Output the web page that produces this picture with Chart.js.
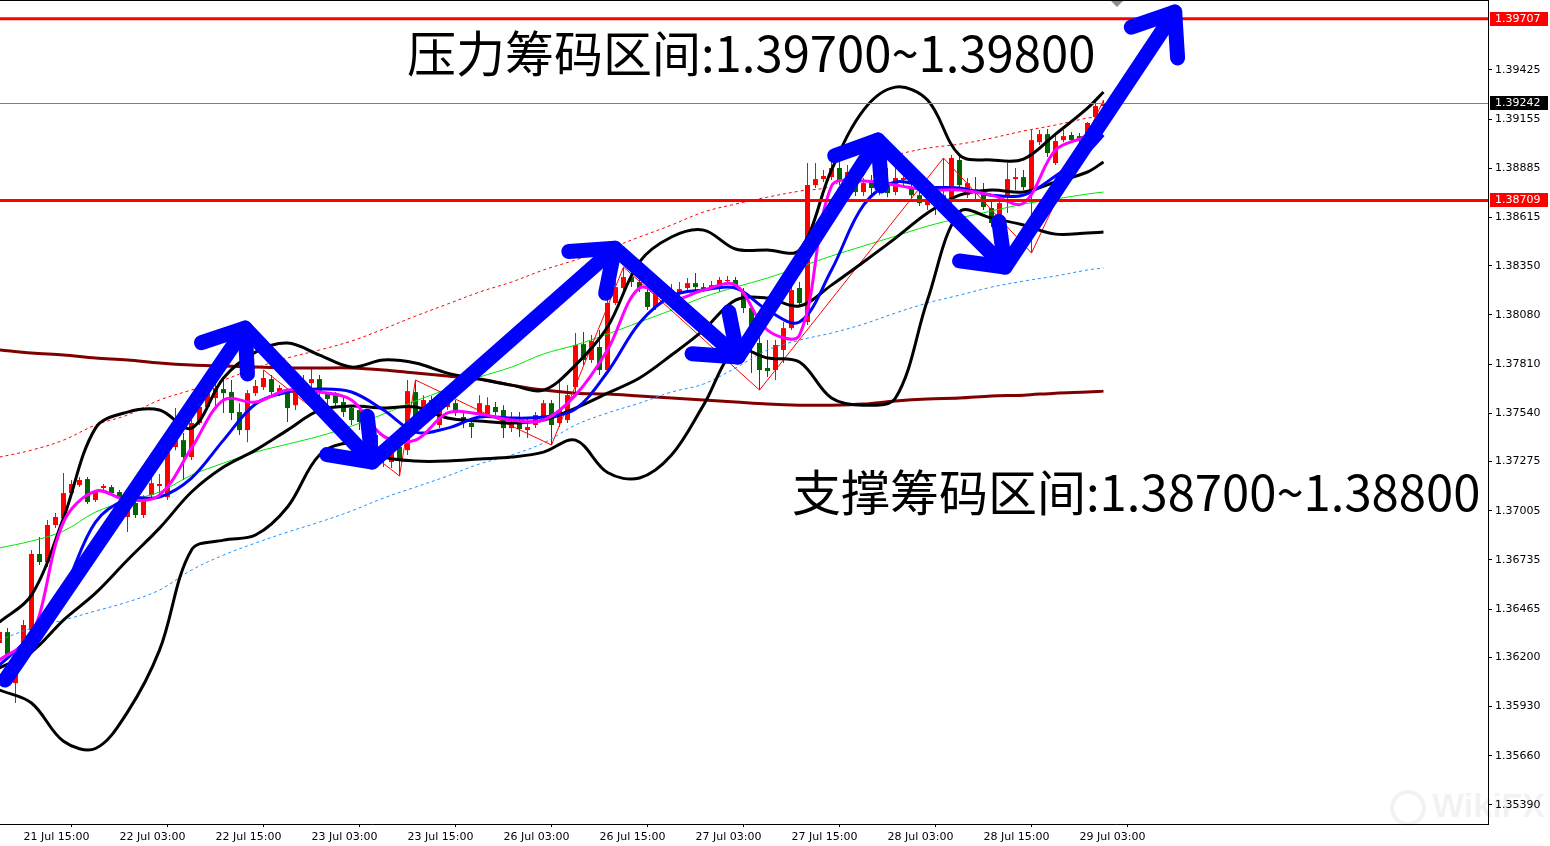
<!DOCTYPE html>
<html>
<head>
<meta charset="utf-8">
<script src="https://cdn.jsdelivr.net/npm/chart.js@4.4.0/dist/chart.umd.min.js"></script>
<style>
  html, body { margin: 0; padding: 0; background: #fff; }
</style>
</head>
<body>
<canvas id="graficoPreco" width="1550" height="846"></canvas>
<script>
// H1 bars, bar 0 = 21 Jul 15:00
const firstBar = -3;
const opens = [
  1.36279, 1.36339, 1.36059, 1.36240, 1.36350, 1.36768, 1.36724, 1.36927, 1.36965, 1.37102,
  1.37146, 1.37179, 1.37064, 1.37130, 1.37135, 1.37108, 1.36971, 1.37048, 1.36982, 1.37091,
  1.37141, 1.37080, 1.37355, 1.37393, 1.37300, 1.37487, 1.37575, 1.37624, 1.37673, 1.37657,
  1.37547, 1.37448, 1.37651, 1.37684, 1.37728, 1.37651, 1.37657, 1.37585, 1.37679, 1.37706,
  1.37728, 1.37651, 1.37640, 1.37602, 1.37569, 1.37558, 1.37476, 1.37421, 1.37295, 1.37273,
  1.37355, 1.37338, 1.37657, 1.37531, 1.37613, 1.37476, 1.37575, 1.37596, 1.37520, 1.37487,
  1.37542, 1.37531, 1.37575, 1.37558, 1.37459, 1.37492, 1.37448, 1.37476, 1.37520, 1.37596,
  1.37487, 1.37503, 1.37684, 1.37920, 1.37833, 1.37904, 1.37778, 1.38146, 1.38228, 1.38288,
  1.38261, 1.38206, 1.38124, 1.38206, 1.38173, 1.38200, 1.38228, 1.38255, 1.38233, 1.38228,
  1.38228, 1.38266, 1.38272, 1.38206, 1.38118, 1.37926, 1.37789, 1.37778, 1.37888, 1.38008,
  1.38228, 1.38041, 1.38793, 1.38826, 1.38837, 1.38887, 1.38810, 1.38832, 1.38755, 1.38810,
  1.38766, 1.38810, 1.38755, 1.38821, 1.38777, 1.38738, 1.38683, 1.38711, 1.38683, 1.38722,
  1.38931, 1.38738, 1.38771, 1.38749, 1.38667, 1.38475, 1.38738, 1.38826, 1.38837, 1.38749,
  1.39029, 1.39073, 1.38914, 1.39040, 1.39068, 1.39062, 1.39068, 1.39167, 1.39227
];
const highs = [
  1.36361, 1.36361, 1.36186, 1.36405, 1.36790, 1.36861, 1.36954, 1.36993, 1.37212, 1.37174,
  1.37190, 1.37190, 1.37119, 1.37152, 1.37146, 1.37119, 1.37064, 1.37064, 1.37091, 1.37190,
  1.37207, 1.37355, 1.37569, 1.37432, 1.37514, 1.37613, 1.37679, 1.37723, 1.37739, 1.37723,
  1.37596, 1.37668, 1.37723, 1.37778, 1.37750, 1.37695, 1.37679, 1.37679, 1.37750, 1.37794,
  1.37750, 1.37657, 1.37657, 1.37629, 1.37585, 1.37585, 1.37520, 1.37448, 1.37366, 1.37349,
  1.37393, 1.37723, 1.37723, 1.37640, 1.37635, 1.37613, 1.37624, 1.37613, 1.37547, 1.37514,
  1.37640, 1.37629, 1.37602, 1.37585, 1.37547, 1.37547, 1.37514, 1.37547, 1.37613, 1.37613,
  1.37723, 1.37695, 1.37981, 1.37986, 1.37970, 1.37997, 1.38233, 1.38310, 1.38343, 1.38310,
  1.38283, 1.38228, 1.38228, 1.38244, 1.38250, 1.38261, 1.38283, 1.38310, 1.38255, 1.38266,
  1.38288, 1.38294, 1.38288, 1.38228, 1.38135, 1.37970, 1.37942, 1.37942, 1.38041, 1.38261,
  1.38261, 1.38914, 1.38914, 1.38876, 1.38931, 1.38931, 1.38903, 1.38876, 1.38832, 1.38848,
  1.38832, 1.38887, 1.38887, 1.38848, 1.38837, 1.38810, 1.38821, 1.38722, 1.38942, 1.38958,
  1.38958, 1.38832, 1.38837, 1.38804, 1.38711, 1.38711, 1.38914, 1.38887, 1.38876, 1.39095,
  1.39095, 1.39101, 1.39068, 1.39095, 1.39084, 1.39079, 1.39139, 1.39249, 1.39260
];
const lows = [
  1.36251, 1.36186, 1.35950, 1.36213, 1.36323, 1.36707, 1.36696, 1.36910, 1.36954, 1.37091,
  1.37135, 1.37042, 1.37053, 1.37119, 1.37086, 1.37064, 1.36888, 1.36965, 1.36965, 1.37080,
  1.37080, 1.37064, 1.37338, 1.37174, 1.37284, 1.37476, 1.37558, 1.37569, 1.37542, 1.37503,
  1.37421, 1.37382, 1.37635, 1.37668, 1.37640, 1.37635, 1.37492, 1.37558, 1.37657, 1.37679,
  1.37613, 1.37585, 1.37575, 1.37520, 1.37476, 1.37448, 1.37366, 1.37240, 1.37245, 1.37240,
  1.37196, 1.37311, 1.37503, 1.37503, 1.37531, 1.37459, 1.37558, 1.37525, 1.37459, 1.37404,
  1.37520, 1.37514, 1.37531, 1.37404, 1.37437, 1.37410, 1.37404, 1.37459, 1.37503, 1.37366,
  1.37465, 1.37487, 1.37657, 1.37805, 1.37816, 1.37750, 1.37767, 1.38135, 1.38217, 1.38233,
  1.38206, 1.38107, 1.38107, 1.38151, 1.38162, 1.38178, 1.38211, 1.38217, 1.38206, 1.38217,
  1.38206, 1.38250, 1.38217, 1.38091, 1.37761, 1.37668, 1.37739, 1.37723, 1.37816, 1.37997,
  1.38129, 1.38025, 1.38777, 1.38810, 1.38821, 1.38793, 1.38777, 1.38733, 1.38733, 1.38738,
  1.38738, 1.38727, 1.38738, 1.38793, 1.38722, 1.38678, 1.38656, 1.38629, 1.38667, 1.38601,
  1.38766, 1.38722, 1.38711, 1.38656, 1.38563, 1.38453, 1.38640, 1.38766, 1.38766, 1.38420,
  1.39013, 1.38947, 1.38903, 1.39029, 1.39024, 1.39024, 1.39051, 1.39150, 1.39216
];
const closes = [
  1.36339, 1.36202, 1.36175, 1.36378, 1.36768, 1.36724, 1.36927, 1.36971, 1.37102, 1.37152,
  1.37174, 1.37053, 1.37108, 1.37141, 1.37102, 1.37080, 1.37048, 1.36982, 1.37080, 1.37157,
  1.37152, 1.37327, 1.37393, 1.37300, 1.37487, 1.37575, 1.37651, 1.37679, 1.37651, 1.37542,
  1.37448, 1.37651, 1.37690, 1.37734, 1.37657, 1.37679, 1.37569, 1.37657, 1.37701, 1.37728,
  1.37651, 1.37619, 1.37596, 1.37547, 1.37503, 1.37492, 1.37410, 1.37338, 1.37349, 1.37327,
  1.37284, 1.37662, 1.37520, 1.37613, 1.37558, 1.37596, 1.37596, 1.37542, 1.37487, 1.37465,
  1.37596, 1.37585, 1.37547, 1.37459, 1.37492, 1.37454, 1.37465, 1.37531, 1.37596, 1.37476,
  1.37558, 1.37640, 1.37915, 1.37833, 1.37937, 1.37778, 1.38146, 1.38233, 1.38288, 1.38261,
  1.38228, 1.38124, 1.38206, 1.38173, 1.38217, 1.38222, 1.38255, 1.38233, 1.38222, 1.38244,
  1.38272, 1.38272, 1.38233, 1.38118, 1.37986, 1.37778, 1.37772, 1.37915, 1.38008, 1.38217,
  1.38146, 1.38793, 1.38826, 1.38843, 1.38887, 1.38821, 1.38865, 1.38755, 1.38804, 1.38777,
  1.38810, 1.38749, 1.38832, 1.38832, 1.38738, 1.38694, 1.38711, 1.38683, 1.38738, 1.38942,
  1.38793, 1.38804, 1.38760, 1.38673, 1.38585, 1.38694, 1.38826, 1.38837, 1.38782, 1.39040,
  1.39073, 1.38969, 1.39035, 1.39062, 1.39040, 1.39040, 1.39134, 1.39227, 1.39242
];

// indicator lines, read every 4 bars
const sampleBars = [-3, 1, 5, 9, 13, 17, 21, 25, 29, 33, 37, 41, 45, 49, 53, 57, 61, 65,
  69, 73, 77, 81, 85, 89, 93, 97, 101, 105, 109, 113, 117, 121, 125, 129, 133, 135];
const bbUpper = [1.36394, 1.36542, 1.36965, 1.37459, 1.37547, 1.37558, 1.37459, 1.37734, 1.37876,
  1.37926, 1.37860, 1.37794, 1.37833, 1.37816, 1.37761, 1.37728, 1.37695, 1.37668, 1.37805,
  1.38014, 1.38371, 1.38508, 1.38546, 1.38442, 1.38437, 1.38437, 1.38876, 1.39205, 1.39331,
  1.39260, 1.38958, 1.38931, 1.38936, 1.39073, 1.39216, 1.39304];
const bbMiddle = [1.36142, 1.36230, 1.36405, 1.36553, 1.36735, 1.36910, 1.37108, 1.37245, 1.37338,
  1.37448, 1.37558, 1.37580, 1.37569, 1.37575, 1.37514, 1.37498, 1.37487, 1.37503, 1.37569,
  1.37651, 1.37734, 1.37860, 1.37997, 1.38162, 1.38173, 1.38129, 1.38244, 1.38371, 1.38502,
  1.38640, 1.38738, 1.38766, 1.38755, 1.38810, 1.38865, 1.38920];
const bbLower = [1.36021, 1.35950, 1.35740, 1.35700, 1.35900, 1.36240, 1.36790, 1.36844, 1.36872,
  1.37026, 1.37311, 1.37377, 1.37300, 1.37278, 1.37278, 1.37289, 1.37300, 1.37327, 1.37393,
  1.37215, 1.37185, 1.37311, 1.37585, 1.37888, 1.37844, 1.37822, 1.37624, 1.37585, 1.37624,
  1.38162, 1.38645, 1.38612, 1.38574, 1.38524, 1.38530, 1.38535];
const maFast = [1.36186, 1.36317, 1.36943, 1.37113, 1.37064, 1.37091, 1.37349, 1.37613, 1.37602,
  1.37668, 1.37657, 1.37613, 1.37415, 1.37393, 1.37542, 1.37536, 1.37503, 1.37503, 1.37640,
  1.37888, 1.38228, 1.38162, 1.38217, 1.38244, 1.37997, 1.37970, 1.38788, 1.38815, 1.38793,
  1.38766, 1.38766, 1.38738, 1.38694, 1.38986, 1.39068, 1.39178];
const maSlow = [1.36158, 1.36323, 1.36570, 1.36943, 1.37070, 1.37080, 1.37185, 1.37393, 1.37591,
  1.37657, 1.37673, 1.37657, 1.37558, 1.37437, 1.37459, 1.37520, 1.37514, 1.37520, 1.37564,
  1.37767, 1.38036, 1.38184, 1.38217, 1.38228, 1.38107, 1.38041, 1.38327, 1.38683, 1.38810,
  1.38782, 1.38777, 1.38738, 1.38738, 1.38843, 1.38975, 1.39068];
const maLong = [1.36801, 1.36839, 1.36894, 1.36998, 1.37059, 1.37108, 1.37201, 1.37267, 1.37327,
  1.37371, 1.37415, 1.37470, 1.37536, 1.37608, 1.37673, 1.37739, 1.37794, 1.37866, 1.37915,
  1.37975, 1.38041, 1.38107, 1.38178, 1.38233, 1.38283, 1.38343, 1.38404, 1.38459, 1.38513,
  1.38568, 1.38612, 1.38651, 1.38689, 1.38717, 1.38744, 1.38755];
const maTrend = [1.37888, 1.37871, 1.37860, 1.37844, 1.37833, 1.37816, 1.37805, 1.37800, 1.37794,
  1.37789, 1.37789, 1.37789, 1.37778, 1.37761, 1.37745, 1.37728, 1.37695, 1.37668, 1.37651,
  1.37646, 1.37635, 1.37624, 1.37613, 1.37602, 1.37591, 1.37585, 1.37585, 1.37591, 1.37608,
  1.37619, 1.37624, 1.37635, 1.37640, 1.37651, 1.37657, 1.37662];
const envUpper = [1.37300, 1.37338, 1.37393, 1.37476, 1.37531, 1.37613, 1.37668, 1.37723, 1.37789,
  1.37844, 1.37888, 1.37937, 1.38003, 1.38074, 1.38140, 1.38206, 1.38261, 1.38327, 1.38382,
  1.38442, 1.38508, 1.38574, 1.38645, 1.38689, 1.38727, 1.38760, 1.38788, 1.38903, 1.38958,
  1.38996, 1.39018, 1.39051, 1.39090, 1.39123, 1.39161, 1.39172];
const envLower = [1.36295, 1.36361, 1.36405, 1.36455, 1.36504, 1.36570, 1.36680, 1.36762, 1.36828,
  1.36888, 1.36943, 1.37004, 1.37075, 1.37135, 1.37196, 1.37262, 1.37311, 1.37377, 1.37476,
  1.37542, 1.37596, 1.37657, 1.37701, 1.37789, 1.37888, 1.37942, 1.37981, 1.38030, 1.38091,
  1.38146, 1.38189, 1.38233, 1.38266, 1.38294, 1.38327, 1.38338];

const zigzagBars = [30, 47, 49, 66, 75, 92, 115, 126, 135];
const zigzagPrices = [1.37778, 1.37196, 1.37723, 1.37366, 1.38343, 1.37668, 1.38942, 1.38420, 1.39260];

const arrowBars = [-2.3, 27.7, 43.6, 73.9, 89.3, 106.8, 122.7, 143.9];
const arrowPrices = [1.36076, 1.38008, 1.37273, 1.38447, 1.37849, 1.39040, 1.38343, 1.39743];

const xTickBars = [0, 12, 24, 36, 48, 60, 72, 84, 96, 108, 120, 132];
const xTickLabels = ['21 Jul 15:00', '22 Jul 03:00', '22 Jul 15:00', '23 Jul 03:00', '23 Jul 15:00',
  '26 Jul 03:00', '26 Jul 15:00', '27 Jul 03:00', '27 Jul 15:00', '28 Jul 03:00', '28 Jul 15:00', '29 Jul 03:00'];
const yTickValues = [1.39425, 1.39155, 1.38885, 1.38615, 1.38350, 1.38080, 1.37810, 1.37540,
  1.37275, 1.37005, 1.36735, 1.36465, 1.36200, 1.35930, 1.35660, 1.35390];

const resistLine = 1.39707;
const supportLine = 1.38709;
const bidLine = 1.39242;
const resistText = '压力筹码区间:1.39700~1.39800';
const supportText = '支撑筹码区间:1.38700~1.38800';

const bars = opens.map((_, i) => firstBar + i);
const candleColors = opens.map((o, i) => (closes[i] >= o ? '#ff0000' : '#006400'));

function serie(values) {
  return sampleBars.map((b, i) => ({ x: b, y: values[i] }));
}

function linha(values, color, width, order, dash) {
  return {
    type: 'line',
    data: serie(values),
    borderColor: color,
    borderWidth: width,
    borderDash: dash || [],
    pointRadius: 0,
    tension: 0.35,
    order
  };
}

const axisFont = { family: 'DejaVu Sans', size: 11 };

const desenhos = {
  id: 'desenhos',
  afterDatasetsDraw(chart) {
    const { ctx, scales: { x, y }, chartArea } = chart;
    ctx.save();

    // horizontal levels
    const gy = Math.round(y.getPixelForValue(bidLine)) + 0.5;
    ctx.strokeStyle = '#808080';
    ctx.lineWidth = 1;
    ctx.beginPath();
    ctx.moveTo(chartArea.left, gy);
    ctx.lineTo(chartArea.right, gy);
    ctx.stroke();
    ctx.strokeStyle = '#ff0000';
    ctx.lineWidth = 3;
    [resistLine, supportLine].forEach((v) => {
      const py = y.getPixelForValue(v);
      ctx.beginPath();
      ctx.moveTo(chartArea.left, py);
      ctx.lineTo(chartArea.right, py);
      ctx.stroke();
    });

    // blue arrows
    const pts = arrowBars.map((b, i) => [x.getPixelForValue(b), y.getPixelForValue(arrowPrices[i])]);
    ctx.strokeStyle = '#0000ff';
    ctx.lineWidth = 15;
    ctx.lineJoin = 'round';
    ctx.lineCap = 'round';
    ctx.beginPath();
    pts.forEach(([px, py], i) => (i ? ctx.lineTo(px, py) : ctx.moveTo(px, py)));
    ctx.stroke();
    for (let i = 1; i < pts.length; i++) {
      const [x0, y0] = pts[i - 1];
      const [x1, y1] = pts[i];
      const a = Math.atan2(y1 - y0, x1 - x0);
      ctx.beginPath();
      [-1, 1].forEach((s) => {
        ctx.moveTo(x1, y1);
        ctx.lineTo(x1 - 46 * Math.cos(a + s * 0.65), y1 - 46 * Math.sin(a + s * 0.65));
      });
      ctx.stroke();
    }

    // labels
    ctx.fillStyle = '#000';
    ctx.font = '49px "Noto Sans CJK SC"';
    ctx.textBaseline = 'middle';
    ctx.textAlign = 'left';
    ctx.fillText(resistText, 407, 53);
    ctx.fillText(supportText, 792, 492);
    ctx.restore();
  },
  afterDraw(chart) {
    const { ctx, scales: { y }, chartArea } = chart;
    ctx.save();
    ctx.strokeStyle = '#000';
    ctx.lineWidth = 1;
    ctx.beginPath();
    ctx.moveTo(chartArea.left, 0.5);
    ctx.lineTo(chartArea.right, 0.5);
    ctx.stroke();

    // shift marker
    ctx.fillStyle = '#8c8c96';
    ctx.beginPath();
    ctx.moveTo(1111, 1);
    ctx.lineTo(1123, 1);
    ctx.lineTo(1117, 7);
    ctx.closePath();
    ctx.fill();

    // price tags on the right axis
    ctx.font = '11px "DejaVu Sans"';
    ctx.textBaseline = 'middle';
    [[resistLine, '#ff0000'], [supportLine, '#ff0000'], [bidLine, '#000000']].forEach(([v, c]) => {
      const py = Math.round(y.getPixelForValue(v));
      ctx.fillStyle = c;
      ctx.fillRect(chartArea.right + 2, py - 7, 58, 14);
      ctx.fillStyle = '#fff';
      ctx.fillText(v.toFixed(5), chartArea.right + 7, py + 0.5);
    });

    // watermark
    ctx.fillStyle = 'rgba(0,0,0,0.05)';
    ctx.font = 'bold 34px "Liberation Sans"';
    ctx.fillText('WikiFX', 1432, 808);
    ctx.lineWidth = 4;
    ctx.strokeStyle = 'rgba(0,0,0,0.05)';
    ctx.beginPath();
    ctx.arc(1408, 808, 16, 0, Math.PI * 2);
    ctx.stroke();
    ctx.restore();
  }
};

new Chart(document.getElementById('graficoPreco'), {
  type: 'line',
  data: {
    datasets: [
      {
        type: 'bar',
        data: bars.map((b, i) => ({ x: b, y: [lows[i], highs[i]] })),
        backgroundColor: candleColors,
        barThickness: 1,
        grouped: false,
        inflateAmount: 0,
        order: 21
      },
      {
        type: 'bar',
        data: bars.map((b, i) => ({ x: b, y: [opens[i], closes[i]] })),
        backgroundColor: candleColors,
        barThickness: 5,
        minBarLength: 1,
        grouped: false,
        inflateAmount: 0,
        order: 20
      },
      linha(maTrend, '#800000', 3, 9),
      linha(maLong, '#00e600', 1, 8),
      linha(envUpper, '#ff0000', 1, 8, [3, 3]),
      linha(envLower, '#1e90ff', 1, 8, [3, 3]),
      {
        type: 'line',
        data: zigzagBars.map((b, i) => ({ x: b, y: zigzagPrices[i] })),
        borderColor: '#ff0000',
        borderWidth: 1,
        pointRadius: 0,
        tension: 0,
        order: 7
      },
      linha(bbUpper, '#000000', 3, 5),
      linha(bbMiddle, '#000000', 3, 5),
      linha(bbLower, '#000000', 3, 5),
      linha(maSlow, '#0000ff', 3, 4),
      linha(maFast, '#ff00ff', 3, 3)
    ]
  },
  options: {
    responsive: false,
    devicePixelRatio: 1,
    animation: false,
    layout: { padding: 0 },
    plugins: { legend: { display: false }, tooltip: { enabled: false } },
    scales: {
      x: {
        type: 'linear',
        min: -2.9375,
        max: 183.0625,
        offset: false,
        afterBuildTicks: (s) => { s.ticks = xTickBars.map((v) => ({ value: v })); },
        afterFit: (s) => { s.height = 22; s.paddingLeft = 0; s.paddingRight = 0; },
        ticks: {
          autoSkip: false,
          maxRotation: 0,
          align: 'start',
          padding: 4,
          color: '#000',
          font: axisFont,
          callback: (v) => xTickLabels[xTickBars.indexOf(v)] || ''
        },
        grid: { drawOnChartArea: false, drawTicks: true, tickLength: 3, color: '#000' },
        border: { display: true, color: '#000' }
      },
      y: {
        type: 'linear',
        position: 'right',
        min: 1.352855,
        max: 1.398093,
        bounds: 'data',
        afterBuildTicks: (s) => { s.ticks = yTickValues.map((v) => ({ value: v })); },
        afterFit: (s) => { s.width = 62; s.paddingTop = 0; s.paddingBottom = 0; },
        ticks: {
          autoSkip: false,
          padding: 3,
          color: '#000',
          font: axisFont,
          callback: (v) => v.toFixed(5)
        },
        grid: { drawOnChartArea: false, drawTicks: true, tickLength: 4, color: '#000' },
        border: { display: true, color: '#000' }
      }
    }
  },
  plugins: [desenhos]
});
</script>
</body>
</html>
